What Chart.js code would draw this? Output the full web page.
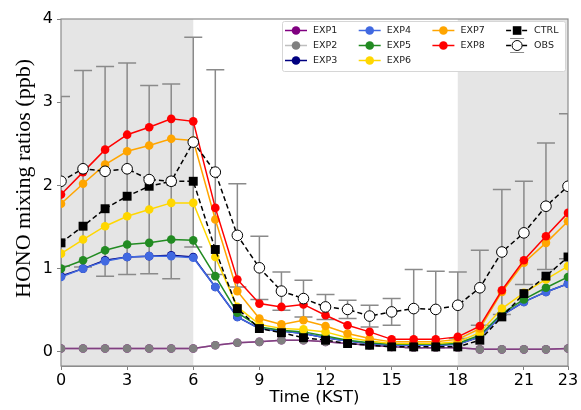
<!DOCTYPE html>
<html>
<head>
<meta charset="utf-8">
<script src="https://cdn.jsdelivr.net/npm/chart.js@4.4.1/dist/chart.umd.min.js"></script>
<style>
  html, body { margin: 0; padding: 0; background: #fff; }
</style>
</head>
<body>
<canvas id="chart" width="581" height="410"></canvas>
<script>
// hours of the day (KST)
const hours = [0, 1, 2, 3, 4, 5, 6, 7, 8, 9, 10, 11, 12, 13, 14, 15, 16, 17, 18, 19, 20, 21, 22, 23];
const xTicks = [0, 3, 6, 9, 12, 15, 18, 21, 23];
const yTicks = [0, 1, 2, 3, 4];
const nightRanges = [[0, 6], [18, 23]];

const exp1 = [0.04, 0.04, 0.04, 0.04, 0.04, 0.04, 0.04, 0.08, 0.11, 0.12, 0.14, 0.14, 0.12, 0.10, 0.08, 0.06, 0.05, 0.05, 0.05, 0.03, 0.03, 0.03, 0.03, 0.04];
const exp2 = [0.04, 0.04, 0.04, 0.04, 0.04, 0.04, 0.04, 0.08, 0.11, 0.12, 0.14, 0.14, 0.12, 0.10, 0.08, 0.06, 0.05, 0.05, 0.05, 0.03, 0.03, 0.03, 0.03, 0.04];
const exp3 = [0.91, 1.00, 1.10, 1.14, 1.15, 1.16, 1.14, 0.78, 0.42, 0.28, 0.25, 0.22, 0.17, 0.13, 0.10, 0.08, 0.08, 0.08, 0.09, 0.18, 0.44, 0.60, 0.72, 0.82];
const exp4 = [0.90, 1.00, 1.09, 1.14, 1.15, 1.15, 1.13, 0.78, 0.42, 0.28, 0.25, 0.22, 0.17, 0.13, 0.10, 0.08, 0.08, 0.08, 0.09, 0.18, 0.44, 0.60, 0.72, 0.82];
const exp5 = [1.00, 1.10, 1.22, 1.29, 1.31, 1.35, 1.34, 0.91, 0.47, 0.30, 0.26, 0.24, 0.19, 0.14, 0.11, 0.09, 0.09, 0.09, 0.10, 0.20, 0.46, 0.63, 0.77, 0.90];
const exp6 = [1.18, 1.35, 1.51, 1.63, 1.71, 1.79, 1.79, 1.14, 0.54, 0.33, 0.28, 0.27, 0.24, 0.17, 0.13, 0.10, 0.10, 0.10, 0.12, 0.23, 0.52, 0.71, 0.87, 1.03];
const exp7 = [1.78, 2.02, 2.25, 2.41, 2.48, 2.56, 2.54, 1.59, 0.73, 0.40, 0.33, 0.38, 0.31, 0.22, 0.16, 0.12, 0.12, 0.12, 0.15, 0.28, 0.72, 1.07, 1.31, 1.57];
const exp8 = [1.89, 2.16, 2.43, 2.61, 2.70, 2.80, 2.77, 1.73, 0.87, 0.58, 0.54, 0.57, 0.44, 0.32, 0.24, 0.15, 0.15, 0.15, 0.18, 0.31, 0.74, 1.10, 1.39, 1.67];
const ctrl = [1.31, 1.51, 1.72, 1.87, 1.99, 2.05, 2.05, 1.23, 0.52, 0.28, 0.23, 0.17, 0.14, 0.10, 0.08, 0.06, 0.06, 0.06, 0.06, 0.14, 0.42, 0.70, 0.91, 1.14];
const obs = [2.05, 2.20, 2.17, 2.20, 2.07, 2.05, 2.52, 2.16, 1.40, 1.01, 0.73, 0.64, 0.54, 0.51, 0.43, 0.48, 0.52, 0.51, 0.56, 0.77, 1.20, 1.43, 1.75, 1.99];
const obsStd = [1.02, 1.18, 1.26, 1.27, 1.13, 1.17, 1.26, 1.23, 0.62, 0.38, 0.23, 0.22, 0.15, 0.11, 0.13, 0.16, 0.47, 0.46, 0.40, 0.45, 0.75, 0.62, 0.76, 0.87];

const yTitle = 'HONO mixing ratios (ppb)';

const toXY = arr => arr.map((v, i) => ({ x: hours[i], y: v }));

function expLine(label, data, color, lineColor) {
  return {
    label, data: toXY(data),
    borderColor: lineColor || color, backgroundColor: color,
    borderWidth: 1.5, pointRadius: 4.3, pointBorderWidth: 0,
    pointBackgroundColor: color
  };
}

const datasets = [
  expLine('EXP1', exp1, '#800080'),
  expLine('EXP2', exp2, '#808080', 'rgba(128,128,128,0.5)'),
  expLine('EXP3', exp3, '#000080'),
  expLine('EXP4', exp4, '#4169e1'),
  expLine('EXP5', exp5, '#228b22'),
  expLine('EXP6', exp6, '#ffd700'),
  expLine('EXP7', exp7, '#ffa500'),
  expLine('EXP8', exp8, '#ff0000'),
  {
    label: 'CTRL', data: toXY(ctrl),
    borderColor: '#000', backgroundColor: '#000', borderWidth: 1.5, borderDash: [5, 3],
    pointStyle: 'rect', pointRadius: 6.3, pointBorderWidth: 0, pointBackgroundColor: '#000'
  },
  {
    label: 'OBS', data: toXY(obs),
    borderColor: '#000', backgroundColor: '#fff', borderWidth: 1.5, borderDash: [5, 3],
    pointRadius: 5.3, pointBorderWidth: 1, pointBorderColor: '#000', pointBackgroundColor: '#fff'
  }
];
// later series drawn on top, like matplotlib
datasets.forEach((d, i) => { d.order = datasets.length - i; d.clip = 0; });

const legendColumns = [['EXP1', 'EXP2', 'EXP3'], ['EXP4', 'EXP5', 'EXP6'], ['EXP7', 'EXP8'], ['CTRL', 'OBS']];

const backdrop = {
  id: 'backdrop',
  beforeDatasetsDraw(chart) {
    const { ctx, chartArea: a, scales: { x, y } } = chart;
    ctx.save();
    ctx.fillStyle = '#e5e5e5';
    nightRanges.forEach(([s, e]) => {
      const x0 = x.getPixelForValue(s), x1 = x.getPixelForValue(e);
      ctx.fillRect(x0, a.top, x1 - x0, a.bottom - a.top);
    });
    ctx.strokeStyle = '#8c8c8c';
    ctx.lineWidth = 1.2;
    ctx.strokeRect(a.left, a.top, a.right - a.left, a.bottom - a.top);

    // y axis label, sits a bit above the middle as in the original figure
    ctx.save();
    ctx.translate(24, (a.top + a.bottom) / 2 - 14);
    ctx.rotate(-Math.PI / 2);
    ctx.font = '22px "Liberation Serif"';
    ctx.fillStyle = '#000';
    ctx.textAlign = 'center';
    ctx.textBaseline = 'middle';
    ctx.fillText(yTitle, 0, 0);
    ctx.restore();

    // OBS error bars
    ctx.beginPath();
    ctx.rect(a.left, a.top, a.right - a.left, a.bottom - a.top);
    ctx.clip();
    ctx.strokeStyle = '#8a8a8a';
    ctx.lineWidth = 1.5;
    obs.forEach((v, i) => {
      const px = x.getPixelForValue(hours[i]);
      const hi = y.getPixelForValue(v + obsStd[i]);
      const lo = y.getPixelForValue(v - obsStd[i]);
      ctx.beginPath();
      ctx.moveTo(px, hi); ctx.lineTo(px, lo);
      ctx.moveTo(px - 9, hi); ctx.lineTo(px + 9, hi);
      ctx.moveTo(px - 9, lo); ctx.lineTo(px + 9, lo);
      ctx.stroke();
    });
    ctx.restore();
  }
};

const boxLegend = {
  id: 'boxLegend',
  afterDraw(chart) {
    const { ctx, chartArea: a } = chart;
    const w = 283, h = 50;
    const left = a.right - 3 - w, top = a.top + 2;
    ctx.save();
    ctx.fillStyle = '#fff';
    ctx.strokeStyle = '#d6d6d6';
    ctx.lineWidth = 1;
    ctx.beginPath();
    ctx.roundRect(left + 0.5, top + 0.5, w, h, 2);
    ctx.fill(); ctx.stroke();
    ctx.font = '9.5px "DejaVu Sans"';
    ctx.textBaseline = 'middle';
    legendColumns.forEach((col, c) => {
      col.forEach((label, r) => {
        const ds = chart.data.datasets.find(d => d.label === label);
        const cx = left + 14 + c * 73.7, cy = top + 9.5 + r * 15;
        if (label === 'OBS') {
          ctx.strokeStyle = '#8a8a8a';
          ctx.lineWidth = 1.2;
          ctx.setLineDash([]);
          ctx.beginPath();
          ctx.moveTo(cx - 7, cy - 7); ctx.lineTo(cx + 7, cy - 7);
          ctx.moveTo(cx - 7, cy + 7); ctx.lineTo(cx + 7, cy + 7);
          ctx.stroke();
        }
        ctx.strokeStyle = ds.borderColor;
        ctx.lineWidth = 1.5;
        ctx.setLineDash(ds.borderDash || []);
        ctx.beginPath();
        ctx.moveTo(cx - 11, cy); ctx.lineTo(cx + 11, cy);
        ctx.stroke();
        ctx.setLineDash([]);
        ctx.fillStyle = ds.pointBackgroundColor;
        ctx.beginPath();
        if (ds.pointStyle === 'rect') {
          ctx.rect(cx - 4.3, cy - 4.3, 8.6, 8.6);
          ctx.fill();
        } else {
          ctx.arc(cx, cy, label === 'OBS' ? 5 : 4.3, 0, Math.PI * 2);
          ctx.fill();
          if (label === 'OBS') { ctx.strokeStyle = '#000'; ctx.lineWidth = 1; ctx.stroke(); }
        }
        ctx.fillStyle = '#222';
        ctx.fillText(label, cx + 17, cy);
      });
    });
    ctx.restore();
  }
};

new Chart(document.getElementById('chart'), {
  type: 'line',
  data: { datasets },
  options: {
    responsive: false,
    animation: false,
    devicePixelRatio: 1,
    layout: { padding: { left: 0, top: 19, right: 13, bottom: 0 } },
    plugins: { legend: { display: false }, tooltip: { enabled: false } },
    scales: {
      x: {
        type: 'linear', min: 0, max: 23,
        afterBuildTicks: s => { s.ticks = xTicks.map(v => ({ value: v })); },
        afterFit: s => { s.height = 44; },
        ticks: { font: { family: 'DejaVu Sans', size: 16 }, color: '#000', padding: 1, maxRotation: 0, autoSkip: false },
        grid: { drawOnChartArea: false, tickLength: 4, color: '#808080' },
        border: { color: '#8c8c8c' },
        title: { display: true, text: 'Time (KST)', color: '#000',
                 font: { family: 'DejaVu Sans', size: 16.5 }, padding: { top: 0, bottom: 2 } }
      },
      y: {
        min: -0.17, max: 4,
        afterBuildTicks: s => { s.ticks = yTicks.map(v => ({ value: v })); },
        afterFit: s => { s.width = 61; },
        ticks: { font: { family: 'DejaVu Sans', size: 16 }, color: '#000', padding: 4 },
        grid: { drawOnChartArea: false, tickLength: 4, color: '#808080' },
        border: { color: '#8c8c8c' }
      }
    }
  },
  plugins: [backdrop, boxLegend]
});
</script>
</body>
</html>
